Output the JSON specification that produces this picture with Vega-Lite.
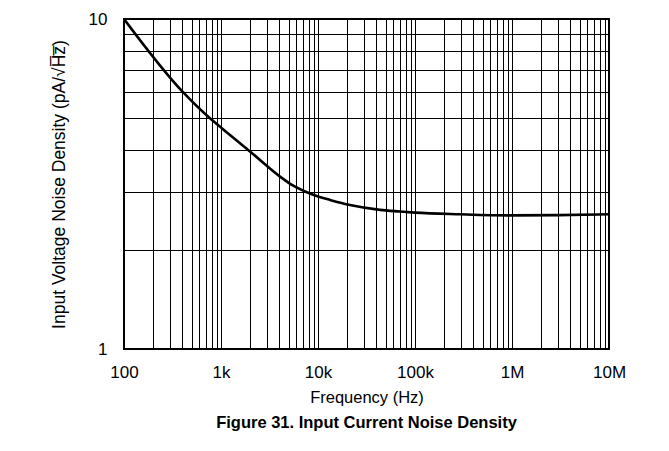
{
  "$schema": "https://vega.github.io/schema/vega-lite/v6.json",
  "width": 485,
  "height": 330,
  "autosize": {"type": "none"},
  "padding": {"left": 124, "top": 19, "right": 60, "bottom": 102},
  "background": "white",
  "config": {
    "font": "Liberation Sans",
    "view": {"stroke": "black", "strokeWidth": 2}
  },
  "title": {
    "text": "Figure 31. Input Current Noise Density",
    "orient": "bottom",
    "anchor": "middle",
    "fontSize": 16.5,
    "fontWeight": "bold",
    "font": "Liberation Sans",
    "color": "black",
    "offset": 9
  },
  "data": {
    "values": [
      {"f": 100, "v": 10},
      {"f": 406, "v": 6.0},
      {"f": 770, "v": 5.0},
      {"f": 1000, "v": 4.69},
      {"f": 1400, "v": 4.32},
      {"f": 1990, "v": 3.97},
      {"f": 3000, "v": 3.58},
      {"f": 4230, "v": 3.3},
      {"f": 5500, "v": 3.13},
      {"f": 7350, "v": 3.0},
      {"f": 10000, "v": 2.9},
      {"f": 13300, "v": 2.83},
      {"f": 21400, "v": 2.73},
      {"f": 43500, "v": 2.64},
      {"f": 70000, "v": 2.61},
      {"f": 100000, "v": 2.59},
      {"f": 291000, "v": 2.56},
      {"f": 1000000, "v": 2.54},
      {"f": 3000000, "v": 2.545},
      {"f": 10000000, "v": 2.56}
    ]
  },
  "mark": {"type": "line", "color": "black", "strokeWidth": 2.6, "interpolate": "monotone", "clip": true},
  "encoding": {
    "x": {
      "field": "f",
      "type": "quantitative",
      "scale": {"type": "log", "domain": [100, 10000000], "nice": false},
      "axis": {
        "title": "Frequency (Hz)",
        "titleFont": "Liberation Sans",
        "titleFontSize": 16.5,
        "titleFontWeight": "normal",
        "titleColor": "black",
        "titlePadding": 9,
        "values": [100,200,300,400,500,600,700,800,900,1000,2000,3000,4000,5000,6000,7000,8000,9000,10000,20000,30000,40000,50000,60000,70000,80000,90000,100000,200000,300000,400000,500000,600000,700000,800000,900000,1000000,2000000,3000000,4000000,5000000,6000000,7000000,8000000,9000000,10000000],
        "labelExpr": "datum.value == 100 ? '100' : datum.value == 1000 ? '1k' : datum.value == 10000 ? '10k' : datum.value == 100000 ? '100k' : datum.value == 1000000 ? '1M' : datum.value == 10000000 ? '10M' : ''",
        "labelFont": "Liberation Sans",
        "labelFontSize": 17,
        "labelColor": "black",
        "labelPadding": 15,
        "labelOverlap": false,
        "labelFlush": false,
        "ticks": false,
        "domain": false,
        "grid": true,
        "gridColor": "black",
        "gridWidth": 1,
        "gridOpacity": 1
      }
    },
    "y": {
      "field": "v",
      "type": "quantitative",
      "scale": {"type": "log", "domain": [1, 10], "nice": false},
      "axis": {
        "title": "Input Voltage Noise Density (pA/√H̅z̅)",
        "titleFont": "Liberation Sans",
        "titleFontSize": 17.5,
        "titleFontWeight": "normal",
        "titleColor": "black",
        "titlePadding": 20,
        "values": [1,2,3,4,5,6,7,8,9,10],
        "labelExpr": "datum.value == 1 ? '1' : datum.value == 10 ? '10' : ''",
        "labelFont": "Liberation Sans",
        "labelFontSize": 17,
        "labelColor": "black",
        "labelPadding": 17,
        "labelOverlap": false,
        "labelFlush": false,
        "ticks": false,
        "domain": false,
        "grid": true,
        "gridColor": "black",
        "gridWidth": 1,
        "gridOpacity": 1
      }
    }
  }
}
